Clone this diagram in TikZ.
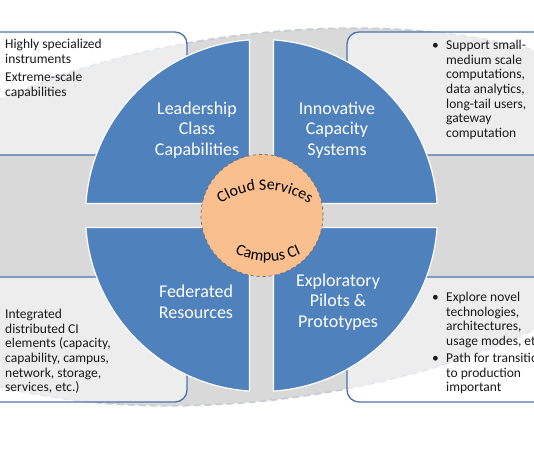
\documentclass[tikz,border=0pt]{standalone}
\usepackage{fontspec}
\setmainfont{Carlito}
\usetikzlibrary{decorations.text}
\definecolor{qblue}{HTML}{4F81BD}
\definecolor{corefill}{HTML}{F9BF8F}
\definecolor{boxline}{HTML}{4D72AA}
\definecolor{band}{HTML}{D9D9D9}
\definecolor{dashc}{HTML}{C7CED8}
\definecolor{txt}{HTML}{1A1A1A}
\newcommand\corefont{\fontsize{16}{18}\selectfont}
\tikzset{
  sidebox/.style={draw=boxline, line width=1.3pt, fill=white, fill opacity=0.55, rounded corners=12pt},
  quad/.style={fill=qblue, draw=white, line width=1.2pt},
  quadtext/.style={font=\fontsize{18}{20.5}\selectfont, align=center, text=white, inner sep=0pt},
  boxtext/.style={font=\fontsize{13.5}{14.7}\selectfont, align=left, inner sep=0pt, text=txt, anchor=base west},
  bullettext/.style={font=\fontsize{13.5}{14.7}\selectfont, inner sep=0pt, text=txt, anchor=base west},
}
\begin{document}
\begin{tikzpicture}[x=1pt,y=1pt]
\useasboundingbox (0,0) rectangle (534,462);
\clip (0,0) rectangle (534,462);
\fill[white] (0,0) rectangle (534,462);
% background ellipse
\draw[fill=band, draw=dashc, line width=1.8pt, dash pattern=on 7pt off 4pt,
      rotate around={7:(261.5,245)}] (261.5,245) ellipse [x radius=420pt, y radius=183pt];
% side boxes
\draw[sidebox] (-20,307) rectangle (187,430);
\draw[sidebox] (347,307) rectangle (560,430);
\draw[sidebox] (-20,60) rectangle (187,185);
\draw[sidebox] (347,60) rectangle (560,185);
% quadrants
\begin{scope}[shift={(261.5,246.5)}]
  \draw[quad] (-12,12) -- (93.91:176) arc[start angle=93.91, end angle=176.09, radius=176] -- cycle;
  \draw[quad] (12,12) -- (3.91:176) arc[start angle=3.91, end angle=86.09, radius=176] -- cycle;
  \draw[quad] (-12,-12) -- (183.91:176) arc[start angle=183.91, end angle=266.09, radius=176] -- cycle;
  \draw[quad] (12,-12) -- (273.91:176) arc[start angle=273.91, end angle=356.09, radius=176] -- cycle;
\end{scope}
% core circle
\node[circle, fill=corefill, draw=gray!85!black, dashed, line width=0.7pt, minimum size=122pt, inner sep=0pt] (core) at (262,246.5) {};
\path[decorate, decoration={text along path, text={|\corefont|Cloud Services}, text align=center}]
  (265,192) ++(150:80) arc[start angle=150, end angle=30, radius=80];
\path[decorate, decoration={text along path, text={|\corefont|Campus CI}, text align=center}]
  (268,278) ++(200:77) arc[start angle=200, end angle=340, radius=77];
% quadrant labels
\node[quadtext] (lead) at (197,332) {Leadership\\Class\\Capabilities};
\node[quadtext] (innov) at (337,332) {Innovative\\Capacity\\Systems};
\node[quadtext] (fed) at (196,160) {Federated\\Resources};
\node[quadtext] (expl) at (338,160) {Exploratory\\Pilots \&\\Prototypes};
% box texts (anchor = baseline of last line)
\node[boxtext] (tltext) at (5,365.4) {Highly specialized\\instruments\\[3.5pt]Extreme-scale\\capabilities};
\node[bullettext] (trb) at (432,412.5) {•};
\node[boxtext] (trtext) at (446,324.3) {Support small-\\medium scale\\computations,\\data analytics,\\long-tail users,\\gateway\\computation};
\node[boxtext] (bltext) at (5,70) {Integrated\\distributed CI\\elements (capacity,\\capability, campus,\\network, storage,\\services, etc.)};
\node[bullettext] (brb1) at (432,160.5) {•};
\node[boxtext] (brtext1) at (446,116.4) {Explore novel\\technologies,\\architectures,\\usage modes, etc.};
\node[bullettext] (brb2) at (432,99.5) {•};
\node[boxtext] (brtext2) at (446,70.1) {Path for transition\\to production\\important};
\end{tikzpicture}
\end{document}
